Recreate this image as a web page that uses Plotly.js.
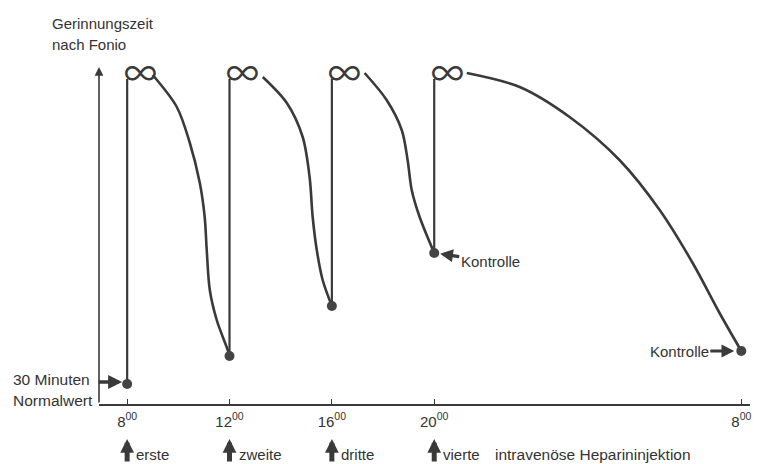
<!DOCTYPE html>
<html><head><meta charset="utf-8">
<script src="https://cdn.plot.ly/plotly-3.0.1.min.js"></script>
<style>html,body{margin:0;padding:0;background:#fff}</style>
</head><body><div id="chart" style="width:757px;height:464px"></div>
<script>
// Time in hours (8 = 8:00, 32 = 8:00 next day); coagulation time in relative units above the baseline
const injectionTimes = [8, 12, 16, 20];
const dotTimes = [8, 12, 16, 20, 32];
const dotValues = [20, 48, 98, 151, 53];
const infinityLevel = 325;

const curve1x = [9.0, 9.94, 10.45, 10.84, 11.03, 11.11, 11.23, 11.5, 11.93, 12];
const curve1y = [329, 297, 261, 221, 187, 154, 114, 84, 54, 48];
const curve2x = [13.3, 14.24, 14.86, 15.13, 15.25, 15.41, 15.64, 16];
const curve2y = [327, 301, 267, 227, 187, 154, 124, 98];
const curve3x = [17.28, 18.14, 18.73, 18.96, 19.12, 19.43, 20];
const curve3y = [331, 304, 274, 244, 214, 187, 151];
const curve4x = [21.27, 23.34, 25.29, 27.24, 28.81, 30.1, 31.15, 32];
const curve4y = [331, 317, 287, 244, 194, 141, 91, 53];

const tickVals = [8, 12, 16, 20, 32];
const tickLabels = ['8<sup>00</sup>', '12<sup>00</sup>', '16<sup>00</sup>', '20<sup>00</sup>', '8<sup>00</sup>'];
const injectionLabels = ['erste', 'zweite', 'dritte', 'vierte'];
const yTitleLines = ['Gerinnungszeit', 'nach Fonio'];
const normalLabels = ['30 Minuten', 'Normalwert'];
const controlLabel = 'Kontrolle';
const footLabel = 'intravenöse Heparininjektion';

const ink = '#3a3a3a';
const txt = '#333';
const fontFam = 'Liberation Sans, Arial, sans-serif';

const traces = [];
[[curve1x, curve1y], [curve2x, curve2y], [curve3x, curve3y], [curve4x, curve4y]].forEach(c => {
  traces.push({x: c[0], y: c[1], mode: 'lines', line: {color: ink, width: 2.6, shape: 'spline', smoothing: 0.9}, hoverinfo: 'skip'});
});
// vertical jumps at each injection: from the measured point up to "infinity"
injectionTimes.forEach((t, i) => {
  traces.push({x: [t, t], y: [dotValues[i], infinityLevel], mode: 'lines', line: {color: ink, width: 2.2}, hoverinfo: 'skip'});
});
traces.push({x: dotTimes, y: dotValues, mode: 'markers', marker: {color: '#444', size: 10}, hoverinfo: 'skip'});

const ann = [];
// y axis arrow
ann.push({x: 6.9, y: 337, ax: 6.9, ay: 0, xref: 'x', yref: 'y', axref: 'x', ayref: 'y', text: '', showarrow: true,
  arrowhead: 2, arrowsize: 1.1, arrowwidth: 1.6, arrowcolor: ink, standoff: 0});
// infinity symbols
injectionTimes.forEach(t => {
  ann.push({x: t, y: infinityLevel + 8, xref: 'x', yref: 'y', text: '∞', showarrow: false, xanchor: 'center', yanchor: 'middle', xshift: 13,
    font: {family: 'Inter, DejaVu Sans, sans-serif', size: 38, weight: 300, color: ink}});
});
// y title
yTitleLines.forEach((s, i) => {
  ann.push({x: -0.075, y: i === 0 ? 1.105 : 1.044, xref: 'paper', yref: 'paper', text: s, showarrow: false, xanchor: 'left', yanchor: 'middle',
    font: {family: fontFam, size: 15, color: txt}});
});
// normal value labels
ann.push({x: -0.135, y: 25, xref: 'paper', yref: 'y', text: normalLabels[0], showarrow: false, xanchor: 'left', yanchor: 'middle', font: {family: fontFam, size: 15.5, color: txt}});
ann.push({x: -0.135, y: 4, xref: 'paper', yref: 'y', text: normalLabels[1], showarrow: false, xanchor: 'left', yanchor: 'middle', font: {family: fontFam, size: 15.5, color: txt}});
ann.push({x: dotTimes[0], y: dotValues[0] + 2, xref: 'x', yref: 'y', text: '', showarrow: true, ax: -30, ay: 0,
  arrowhead: 2, arrowsize: 0.8, arrowwidth: 3.5, arrowcolor: ink, standoff: 5});
// Kontrolle labels
ann.push({x: dotTimes[3], y: dotValues[3], xref: 'x', yref: 'y', text: controlLabel, showarrow: true, ax: 56, ay: 8,
  arrowhead: 2, arrowsize: 0.8, arrowwidth: 3.2, arrowcolor: ink, standoff: 6, font: {family: fontFam, size: 15, color: txt}});
ann.push({x: dotTimes[4], y: dotValues[4], xref: 'x', yref: 'y', text: controlLabel, showarrow: true, ax: -62, ay: 0,
  arrowhead: 2, arrowsize: 0.8, arrowwidth: 3.2, arrowcolor: ink, standoff: 7, font: {family: fontFam, size: 15, color: txt}});
// injection arrows and labels
injectionTimes.forEach((t, i) => {
  ann.push({x: t, y: -0.102, xref: 'x', yref: 'paper', text: '', showarrow: true, ax: 0, ay: 24, xshift: 0,
    arrowhead: 2, arrowsize: 0.55, arrowwidth: 5, arrowcolor: ink, standoff: 0});
  ann.push({x: t, y: -0.148, xref: 'x', yref: 'paper', text: injectionLabels[i], showarrow: false, xanchor: 'left', yanchor: 'middle', xshift: 7,
    font: {family: fontFam, size: 15, color: txt}});
});
ann.push({x: 22.3, y: -0.148, xref: 'x', yref: 'paper', text: footLabel, showarrow: false, xanchor: 'left', yanchor: 'middle',
  font: {family: fontFam, size: 15.5, color: txt}});

const layout = {
  width: 757, height: 464,
  margin: {l: 99, r: 7, t: 60, b: 60},
  paper_bgcolor: '#fff', plot_bgcolor: '#fff',
  showlegend: false,
  xaxis: {range: [6.9, 32.34], showgrid: false, zeroline: false, showline: true, linecolor: ink, linewidth: 1.6,
    ticks: 'inside', ticklen: 5, tickcolor: ink, tickwidth: 1, tickvals: tickVals, ticktext: tickLabels,
    ticklabelstandoff: 3, tickfont: {family: fontFam, size: 15, color: txt}, fixedrange: true},
  yaxis: {range: [0, 344], showgrid: false, zeroline: false, showline: false, showticklabels: false, ticks: '', fixedrange: true},
  annotations: ann
};
Plotly.newPlot('chart', traces, layout, {displayModeBar: false, staticPlot: true});
</script></body></html>
